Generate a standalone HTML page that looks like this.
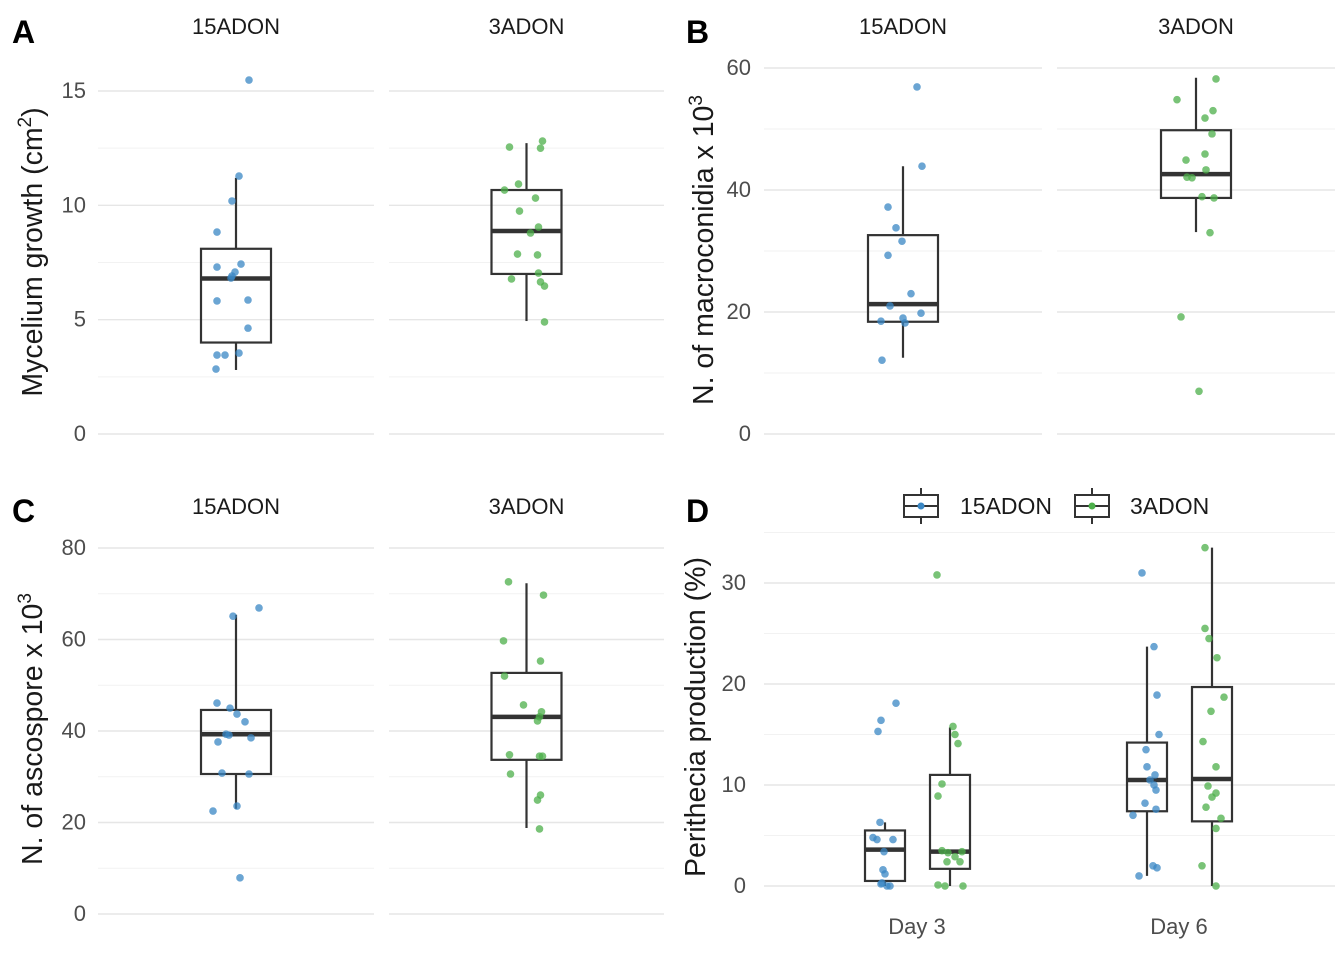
<!DOCTYPE html>
<html><head><meta charset="utf-8"><style>
body{margin:0;background:#fff;}
svg text{font-family:"Liberation Sans",Arial,sans-serif;}
</style></head><body>
<svg id="chart" width="1344" height="960" xmlns="http://www.w3.org/2000/svg"></svg>
<script>
// ---- data ----
const groups = ["15ADON","3ADON"];
const days = ["Day 3","Day 6"];
const aBox15 = [2.8,4.0,6.8,8.1,11.2];
const aBox3 = [4.94,7.0,8.88,10.67,12.72];
const aPts15 = [15.48,11.28,10.19,8.83,7.30,7.43,7.08,6.91,6.82,5.82,5.86,4.63,3.45,3.45,3.54,2.84];
const aPts3 = [12.81,12.55,12.5,10.93,10.67,10.32,9.75,9.05,8.79,7.87,7.83,7.04,6.78,6.65,6.47,4.9];
const bBox15 = [12.5,18.4,21.3,32.6,43.9];
const bBox3 = [33.1,38.7,42.6,49.8,58.4];
const bPts15 = [56.9,43.9,37.2,33.8,31.6,29.3,23.0,21,19.8,19.0,18.5,18.2,12.1];
const bPts3 = [58.2,54.8,53.0,51.8,49.2,45.9,44.9,43.3,42.1,42.0,38.7,38.9,33.0,19.2,7.0];
const cBox15 = [23.0,30.6,39.3,44.6,65.4];
const cBox3 = [18.8,33.7,43.1,52.7,72.3];
const cPts15 = [66.9,65.1,46.1,45.0,43.7,42.0,39.3,39.1,38.5,37.6,30.8,30.6,23.6,22.5,7.9];
const cPts3 = [72.6,69.7,59.7,55.3,52.0,45.7,44.2,43.1,42.2,34.8,34.5,34.5,30.6,26.0,24.9,18.6];
const dBox = [[0,0.5,3.6,5.5,6.3],[0,1.7,3.4,11.0,15.7],[1.0,7.4,10.5,14.2,23.7],[0,6.4,10.6,19.7,33.5]];
const dPts = [
 [18.1,16.4,15.3,6.3,4.8,4.6,4.6,3.4,1.6,1.2,0.2,0,0,0.3],
 [30.8,15.8,15.0,14.1,10.1,8.9,3.5,3.3,3.4,2.9,2.4,2.4,0.1,0,0],
 [31.0,23.7,18.9,15.0,13.5,11.8,11.0,10.5,10.0,9.5,8.2,7.6,7.0,2.0,1.8,1.0],
 [33.5,25.5,24.5,22.6,17.3,14.3,18.7,11.8,9.9,9.2,8.8,7.8,6.7,5.7,2.0,0]];
// horizontal jitter (fraction of box width)
const aJit15 = [13,3,-4,-19,-19,5,-1,-4,-5,-19,12,12,-19,-11,3,-20].map(v=>v/70);
const aJit3 = [16,-17,14,-8,-22,9,-7,12,4,-9,11,12,-15,14,18,18].map(v=>v/70);
const bJit15 = [14,19,-15,-7,-1,-15,8,-13,18,0,-22,2,-21].map(v=>v/70);
const bJit3 = [20,-19,17,9,16,9,-10,10,-9,-4,18,6,14,-15,3].map(v=>v/70);
const cJit15 = [23,-3,-19,-6,1,9,-10,-7,15,-18,-14,13,1,-23,4].map(v=>v/70);
const cJit3 = [-18,17,-23,14,-22,-3,15,13,11,-17,13,16,-16,14,11,13].map(v=>v/70);
const dJit = [
 [11,-4,-7,-5,-12,-8,8,-1,-2,0,-4,2,5,-3].map(v=>v/40),
 [-13,3,5,8,-8,-12,-8,-2,12,5,10,-3,-12,-5,13].map(v=>v/40),
 [-5,7,10,12,-1,0,8,3,7,9,-2,9,-14,6,10,-8].map(v=>v/40),
 [-7,-7,-3,5,-1,-9,12,4,-4,4,0,-6,9,4,-10,4].map(v=>v/40)];
const COL = {"15ADON":"#3a87c4","3ADON":"#4caf4a"};
// ---- helpers ----
const svg = document.getElementById('chart');
const NS = "http://www.w3.org/2000/svg";
function mk(tag, attrs, parent){const e=document.createElementNS(NS,tag);for(const k in attrs)e.setAttribute(k,attrs[k]);(parent||svg).appendChild(e);return e;}
function txt(s, attrs, name){const e=mk('text',attrs);e.textContent=s;return e;}
function scale(v0,y0,v1,y1){return v=>y0+(v-v0)*(y1-y0)/(v1-v0);}
function grid(x0,x1,y,ticks,minor){
  const g=mk('g',{});
  
  
  minor.forEach(v=>mk('line',{x1:x0,x2:x1,y1:y(v),y2:y(v),stroke:'#f2f2f2','stroke-width':1},g));
  ticks.forEach(v=>mk('line',{x1:x0,x2:x1,y1:y(v),y2:y(v),stroke:'#e6e6e6','stroke-width':1.4},g));
}
function yticks(xr,y,ticks){ticks.forEach(v=>txt(String(v),{x:xr,y:y(v)+7,'text-anchor':'end','font-size':22,fill:'#4d4d4d'},'y-tick-label'));}
function box(cx,w,y,b,name){
  const g=mk('g',{});
  
  
  mk('line',{x1:cx,x2:cx,y1:y(b[0]),y2:y(b[1]),stroke:'#333','stroke-width':2.2},g);
  mk('line',{x1:cx,x2:cx,y1:y(b[3]),y2:y(b[4]),stroke:'#333','stroke-width':2.2},g);
  mk('rect',{x:cx-w/2,y:y(b[3]),width:w,height:y(b[1])-y(b[3]),fill:'none',stroke:'#333','stroke-width':2.2},g);
  mk('line',{x1:cx-w/2,x2:cx+w/2,y1:y(b[2]),y2:y(b[2]),stroke:'#333','stroke-width':4.5},g);
}
function pts(cx,w,y,vals,jit,col,name){
  vals.forEach((v,i)=>{const c=mk('circle',{cx:cx+(jit[i]||0)*w,cy:y(v),r:3.8,fill:col,'fill-opacity':0.75});
    
    });
}
function facetPanel(x0,x1,y,ticks,minor,bx,pvals,jit,grp,ly){
  grid(x0,x1,y,ticks,minor);
  const cx=(x0+x1)/2;
  txt(grp,{x:cx,y:ly,'text-anchor':'middle','font-size':22,fill:'#1a1a1a'},'facet-label');
  box(cx,70,y,bx,'boxplot-'+grp);
  pts(cx,70,y,pvals,jit,COL[grp],'point-'+grp);
}
// ---- Panel A ----
const yA=scale(0,434,15,91);
facetPanel(98,374,yA,[0,5,10,15],[2.5,7.5,12.5],aBox15,aPts15,aJit15,"15ADON",34);
facetPanel(389,664,yA,[0,5,10,15],[2.5,7.5,12.5],aBox3,aPts3,aJit3,"3ADON",34);
yticks(86,yA,[0,5,10,15]);
txt('A',{x:12,y:43,'font-size':32,'font-weight':'bold'},'panel-label-a');
const tA=txt('',{transform:'translate(42,252) rotate(-90)','text-anchor':'middle','font-size':28.5,fill:'#1a1a1a'},'y-axis-title-a');
tA.innerHTML='Mycelium growth  (cm<tspan dy="-11" font-size="19">2</tspan><tspan dy="11">)</tspan>';
// ---- Panel B ----
const yB=scale(0,434,60,68);
facetPanel(764,1042,yB,[0,20,40,60],[10,30,50],bBox15,bPts15,bJit15,"15ADON",34);
facetPanel(1057,1335,yB,[0,20,40,60],[10,30,50],bBox3,bPts3,bJit3,"3ADON",34);
yticks(751,yB,[0,20,40,60]);
txt('B',{x:686,y:43,'font-size':32,'font-weight':'bold'},'panel-label-b');
const tB=txt('',{transform:'translate(713,250) rotate(-90)','text-anchor':'middle','font-size':28.5,fill:'#1a1a1a'},'y-axis-title-b');
tB.innerHTML='N. of macroconidia x 10<tspan dy="-11" font-size="19">3</tspan>';
// ---- Panel C ----
const yC=scale(0,914,80,548);
facetPanel(98,374,yC,[0,20,40,60,80],[10,30,50,70],cBox15,cPts15,cJit15,"15ADON",514);
facetPanel(389,664,yC,[0,20,40,60,80],[10,30,50,70],cBox3,cPts3,cJit3,"3ADON",514);
yticks(86,yC,[0,20,40,60,80]);
txt('C',{x:12,y:522,'font-size':32,'font-weight':'bold'},'panel-label-c');
const tC=txt('',{transform:'translate(42,729) rotate(-90)','text-anchor':'middle','font-size':28.5,fill:'#1a1a1a'},'y-axis-title-c');
tC.innerHTML='N. of ascospore x 10<tspan dy="-11" font-size="19">3</tspan>';
// ---- Panel D ----
const yD=scale(0,886,30,583);
grid(764,1335,yD,[0,10,20,30],[5,15,25,35]);
yticks(746,yD,[0,10,20,30]);
const dayX=[917,1179];
days.forEach((d,i)=>txt(d,{x:dayX[i],y:934,'text-anchor':'middle','font-size':22,fill:'#4d4d4d'},'x-tick-label'));
dBox.forEach((b,k)=>{
  const di=Math.floor(k/2), gi=k%2, grp=groups[gi];
  const cx=dayX[di]+(gi===0?-32:33);
  box(cx,40,yD,b,'boxplot-'+grp+'-'+days[di]);
  pts(cx,40,yD,dPts[k],dJit[k],COL[grp],'point-'+grp);
});
txt('D',{x:686,y:522,'font-size':32,'font-weight':'bold'},'panel-label-d');
txt('Perithecia production (%)',{transform:'translate(705,717) rotate(-90)','text-anchor':'middle','font-size':28.5,fill:'#1a1a1a'},'y-axis-title-d');
// legend
[[921,"15ADON",960],[1092,"3ADON",1130]].forEach(([kx,g,tx])=>{
  const lg=mk('g',{});
  
  
  mk('line',{x1:kx,x2:kx,y1:488,y2:524,stroke:'#333','stroke-width':2},lg);
  mk('rect',{x:kx-17,y:495,width:34,height:22,fill:'#fff',stroke:'#333','stroke-width':2},lg);
  mk('line',{x1:kx-17,x2:kx+17,y1:506,y2:506,stroke:'#333','stroke-width':2},lg);
  mk('circle',{cx:kx,cy:506,r:3.5,fill:COL[g]},lg);
  const t=mk('text',{x:tx,y:514,'font-size':23,fill:'#1a1a1a'},lg);t.textContent=g;
});
</script>
</body></html>
